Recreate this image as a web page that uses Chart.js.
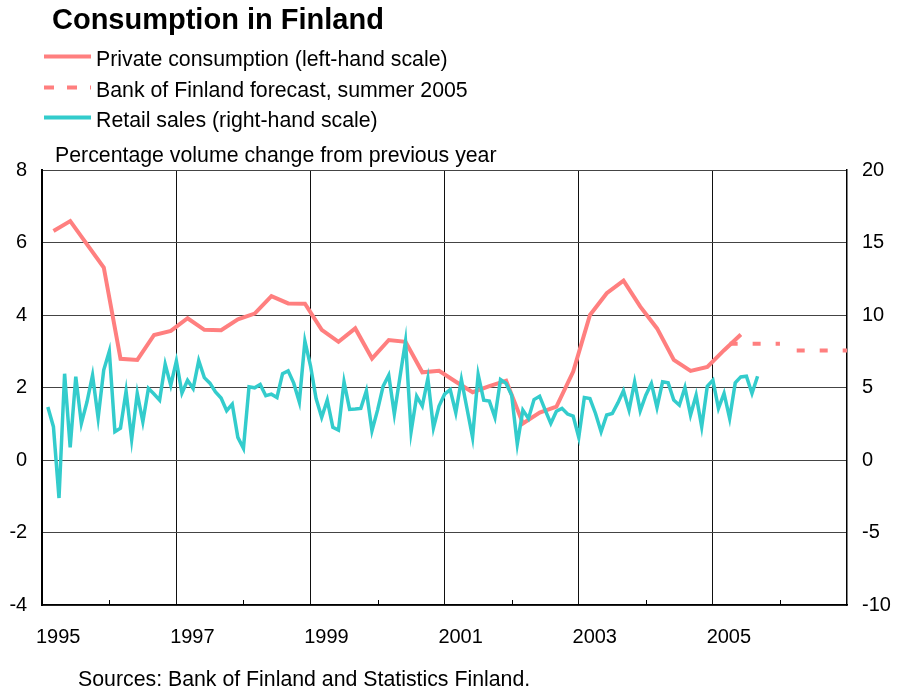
<!DOCTYPE html>
<html>
<head>
<meta charset="utf-8">
<script src="https://cdn.jsdelivr.net/npm/chart.js@4.4.1/dist/chart.umd.min.js"></script>
<style>
  body { margin: 0; background: #fff; }
  canvas { display: block; }
</style>
</head>
<body>
<canvas id="myChart" width="899" height="691"></canvas>
<script>
// data
var startYear = 1995;
var xTickYears = [1995, 1997, 1999, 2001, 2003, 2005];

// private consumption, quarterly 1995Q1 - 2005Q2 (left-hand scale)
var privateConsumption = [
    6.32, 6.59, 5.95, 5.31,
    2.79, 2.76, 3.45, 3.56,
    3.91, 3.59, 3.58, 3.88,
    4.04, 4.52, 4.32, 4.31,
    3.59, 3.26, 3.63, 2.80,
    3.31, 3.26, 2.42, 2.46,
    2.16, 1.87, 2.04, 2.19,
    1.01, 1.31, 1.47, 2.44,
    4.00, 4.60, 4.95, 4.23,
    3.63, 2.76, 2.46, 2.57,
    3.03, 3.46
];

// Bank of Finland forecast, summer 2005 (annual)
var forecastYears = [2005, 2006];
var forecastValues = [3.21, 3.02];

// retail sales, monthly Jan 1995 - Aug 2005 (right-hand scale)
var retailSales = [
    3.65, 2.30, -2.62, 5.95, 0.87, 5.75, 2.52, 4.00, 5.85, 2.90, 6.20, 7.50,
    1.95, 2.20, 4.75, 1.42, 4.60, 2.64, 4.94, 4.55, 4.13, 6.60, 5.16, 6.83,
    4.62, 5.50, 4.93, 6.85, 5.68, 5.30, 4.70, 4.27, 3.40, 3.85, 1.56, 0.80,
    5.05, 4.98, 5.21, 4.43, 4.54, 4.31, 5.96, 6.15, 5.30, 4.00, 8.20, 6.50,
    4.24, 2.94, 4.13, 2.25, 2.06, 5.39, 3.49, 3.52, 3.56, 4.77, 2.02, 3.44,
    5.09, 5.85, 3.17, 5.70, 8.19, 1.95, 4.40, 3.72, 5.62, 2.22, 3.72, 4.54,
    4.86, 3.26, 5.55, 3.55, 1.56, 5.89, 4.13, 4.06, 2.94, 5.55, 5.28, 4.47,
    1.10, 3.44, 2.87, 4.17, 4.40, 3.44, 2.52, 3.36, 3.56, 3.17, 3.03, 1.56,
    4.31, 4.24, 3.21, 1.95, 3.10, 3.21, 3.94, 4.77, 3.44, 5.39, 3.39, 4.47,
    5.28, 3.62, 5.39, 5.32, 4.13, 3.78, 5.00, 3.10, 4.47, 2.29, 5.09, 5.50,
    3.56, 4.59, 2.87, 5.32, 5.73, 5.78, 4.59, 5.78
];

var pcColor = '#FF7F7F';
var retailColor = '#33CCCC';
var fontFamily = '"Liberation Sans", Arial, Helvetica, sans-serif';

// build points for the library
var pcPoints = privateConsumption.map(function(v, i) {
    return { x: startYear + (i + 0.67) / 4, y: v };
});
var retailPoints = retailSales.map(function(v, i) {
    return { x: startYear + (i + 1) / 12, y: v };
});
var forecastPoints = [];
forecastYears.forEach(function(yr, i) {
    forecastPoints.push({ x: yr + 0.25, y: forecastValues[i] });
    forecastPoints.push({ x: yr + 1, y: forecastValues[i] });
    forecastPoints.push({ x: yr + 1.1, y: null });
});

// title, legend, subtitle, source and the small year ticks
var extrasPlugin = {
    id: 'extras',
    afterDraw: function(chart) {
        var c = chart.ctx;
        var area = chart.chartArea;
        var xs = chart.scales.x;
        c.save();

        // small ticks at even years
        c.strokeStyle = '#000';
        c.lineWidth = 1;
        for (var yr = startYear + 1; yr < 2007; yr += 2) {
            var px = Math.round(xs.getPixelForValue(yr)) + 0.5;
            c.beginPath();
            c.moveTo(px, area.bottom);
            c.lineTo(px, area.bottom - 5);
            c.stroke();
        }

        c.fillStyle = '#000';
        c.textBaseline = 'alphabetic';
        c.textAlign = 'left';
        c.font = 'bold 29px ' + fontFamily;
        c.fillText('Consumption in Finland', 52, 29);

        var items = [
            { text: 'Private consumption (left-hand scale)', color: pcColor, dash: [], y: 66 },
            { text: 'Bank of Finland forecast, summer 2005', color: pcColor, dash: [10, 13], y: 97 },
            { text: 'Retail sales (right-hand scale)', color: retailColor, dash: [], y: 127 }
        ];
        c.font = '21.3px ' + fontFamily;
        items.forEach(function(it) {
            c.strokeStyle = it.color;
            c.lineWidth = 4;
            c.setLineDash(it.dash);
            c.beginPath();
            c.moveTo(44, it.y - 9.5);
            c.lineTo(91, it.y - 9.5);
            c.stroke();
            c.setLineDash([]);
            c.fillText(it.text, 96, it.y);
        });

        c.fillText('Percentage volume change from previous year', 55, 162);
        c.fillText('Sources: Bank of Finland and Statistics Finland.', 78, 686);
        c.restore();
    }
};

var ctx = document.getElementById('myChart').getContext('2d');
var chart = new Chart(ctx, {
    type: 'line',
    data: {
        datasets: [{
            label: 'Retail sales (right-hand scale)',
            data: retailPoints,
            yAxisID: 'y2',
            borderColor: retailColor,
            borderWidth: 3.5,
            pointRadius: 0,
            tension: 0,
            order: 0
        }, {
            label: 'Private consumption (left-hand scale)',
            data: pcPoints,
            yAxisID: 'y',
            borderColor: pcColor,
            borderWidth: 4,
            pointRadius: 0,
            tension: 0,
            order: 1
        }, {
            label: 'Bank of Finland forecast, summer 2005',
            data: forecastPoints,
            yAxisID: 'y',
            borderColor: pcColor,
            borderWidth: 4,
            borderDash: [8, 15],
            pointRadius: 0,
            spanGaps: false,
            order: 2
        }]
    },
    options: {
        responsive: false,
        devicePixelRatio: 1,
        animation: false,
        layout: { padding: { top: 170, left: 0, right: 0, bottom: 0 } },
        plugins: {
            legend: { display: false },
            title: { display: false },
            tooltip: { enabled: false }
        },
        scales: {
            x: {
                type: 'linear',
                min: 1995,
                max: 2007,
                afterFit: function(scale) { scale.height = 86; },
                ticks: {
                    stepSize: 1,
                    autoSkip: false,
                    maxRotation: 0,
                    padding: 20,
                    labelOffset: 16,
                    color: '#000',
                    font: { family: fontFamily, size: 20 },
                    callback: function(v) {
                        return xTickYears.indexOf(v) >= 0 ? String(v) : '';
                    }
                },
                grid: {
                    drawTicks: false,
                    lineWidth: 1,
                    color: function(c) {
                        return (c.tick && xTickYears.indexOf(c.tick.value) >= 0) ? '#111' : 'rgba(0,0,0,0)';
                    }
                },
                border: { display: true, color: '#000', width: 1.5 }
            },
            y: {
                position: 'left',
                min: -4,
                max: 8,
                afterFit: function(scale) { scale.width = 42; },
                ticks: {
                    stepSize: 2,
                    padding: 15,
                    color: '#000',
                    font: { family: fontFamily, size: 20 }
                },
                grid: { drawTicks: false, color: '#444', lineWidth: 1 },
                border: { display: true, color: '#000', width: 2 }
            },
            y2: {
                position: 'right',
                min: -10,
                max: 20,
                afterFit: function(scale) { scale.width = 52; },
                ticks: {
                    stepSize: 5,
                    padding: 15,
                    color: '#000',
                    font: { family: fontFamily, size: 20 }
                },
                grid: { drawTicks: false, drawOnChartArea: false },
                border: { display: true, color: '#000', width: 1.5 }
            }
        }
    },
    plugins: [extrasPlugin]
});
</script>
</body>
</html>
